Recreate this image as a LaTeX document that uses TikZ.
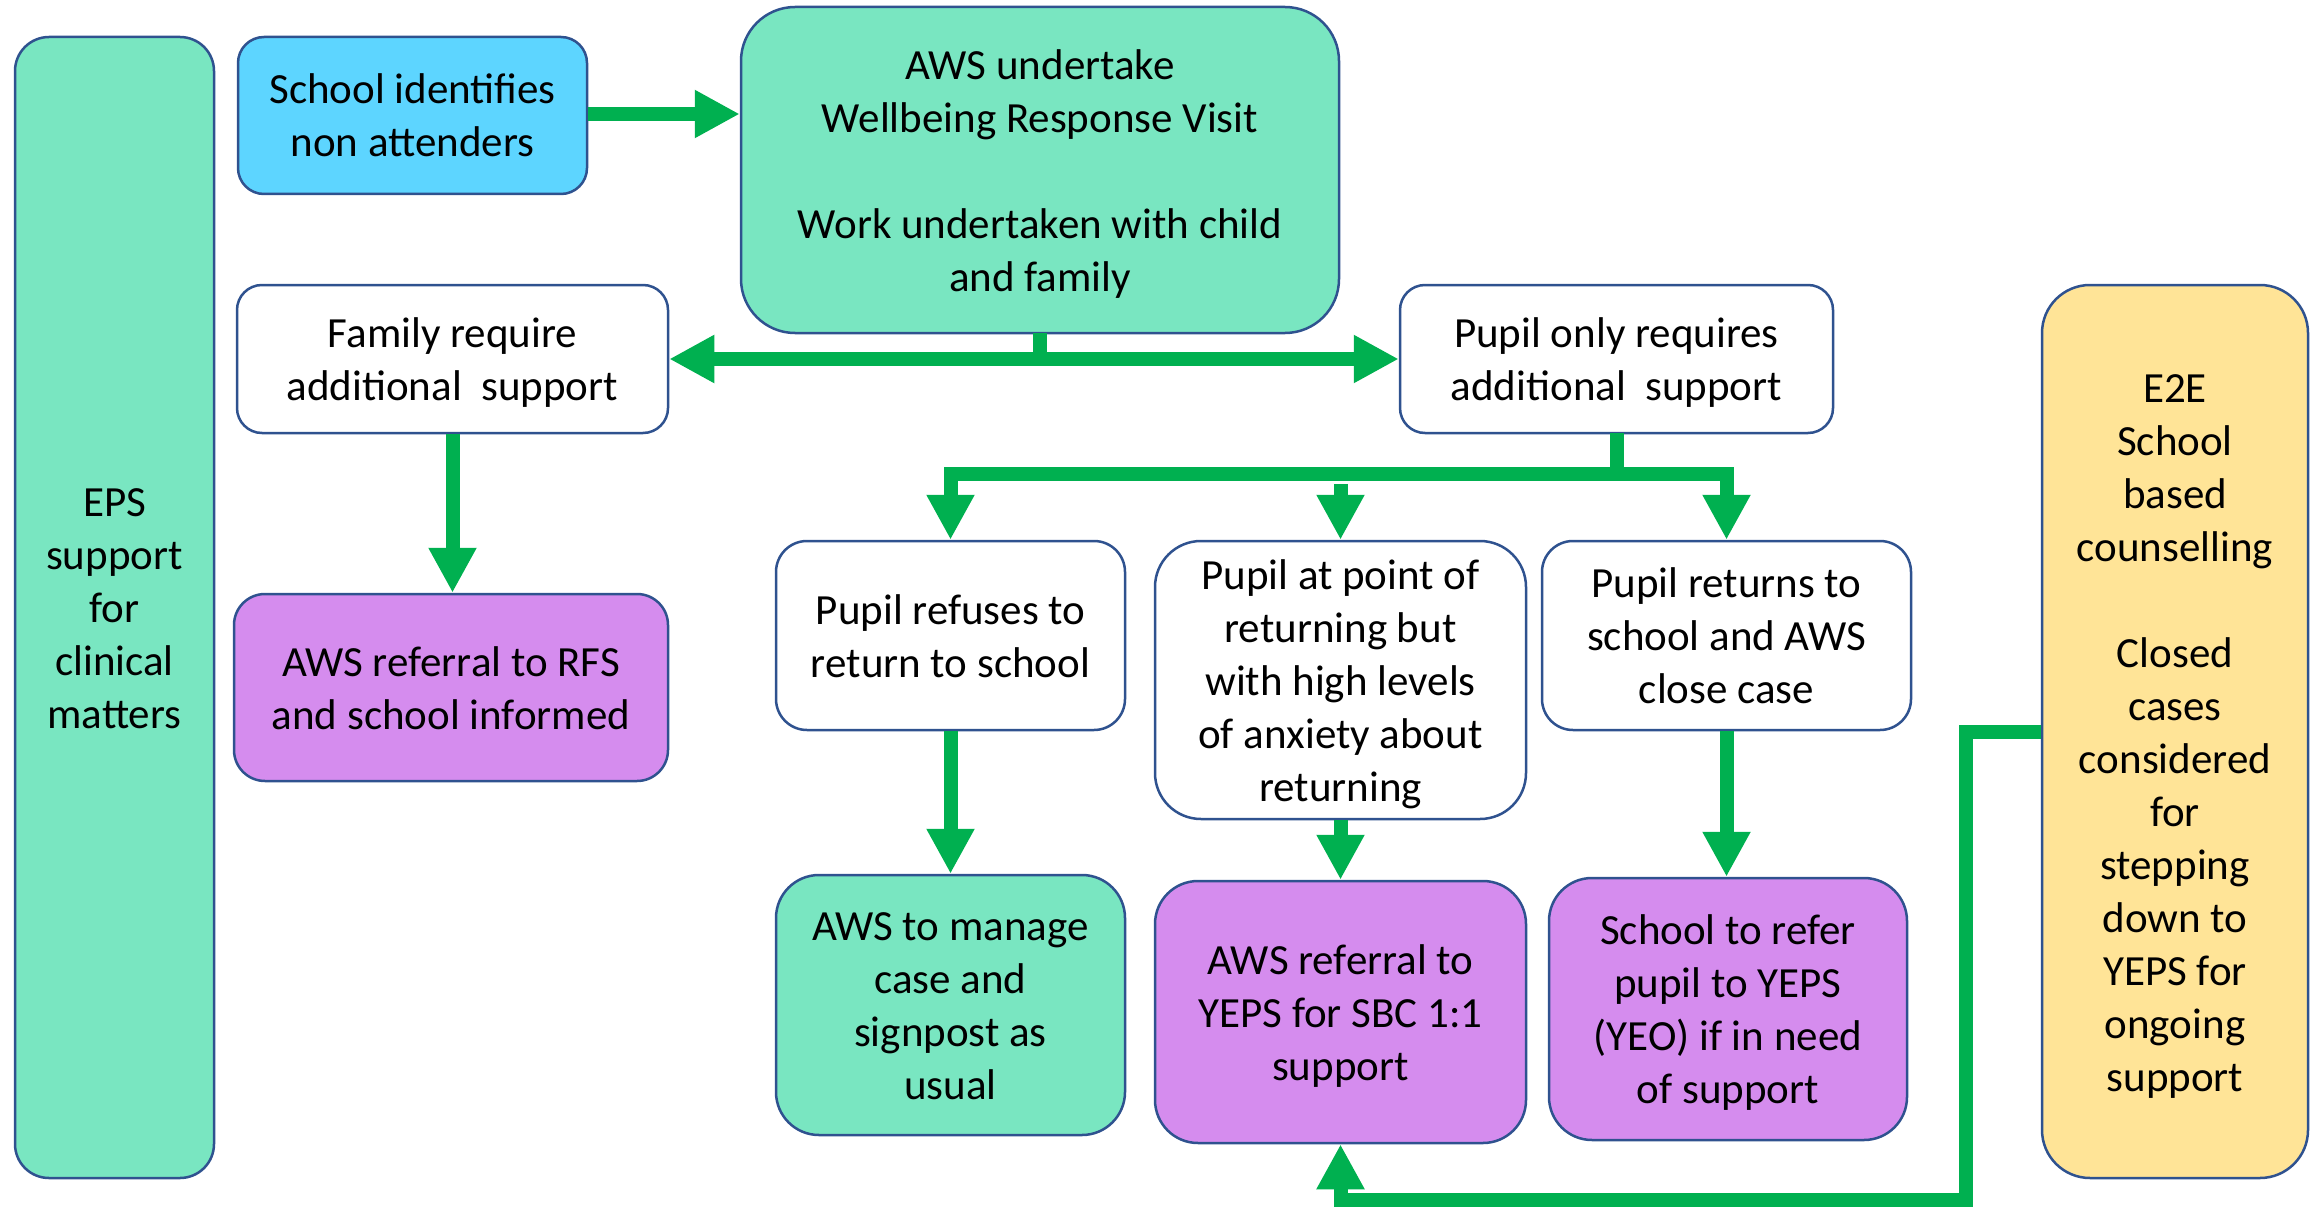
\documentclass[tikz,border=0pt]{standalone}
\usepackage{fontspec}
\setmainfont{Carlito}
\usetikzlibrary{arrows.meta}
\definecolor{bgreen}{HTML}{79E6C1}
\definecolor{bblue}{HTML}{5DD5FF}
\definecolor{bpurple}{HTML}{D58CEE}
\definecolor{byellow}{HTML}{FFE497}
\definecolor{bborder}{HTML}{2F528F}
\definecolor{agreen}{HTML}{00B050}
\newcommand\myTop{\rule{0pt}{43pt}}
\newcommand\myBot{\rule[-13pt]{0pt}{13pt}}
\tikzset{
  box/.style={draw=bborder, line width=2.5pt, rectangle, inner sep=0pt, align=center,
    font=\fontsize{43}{53}\selectfont, text=black},
  arr/.style={draw=agreen, line width=14pt, line join=miter, line cap=butt,
    -{Triangle[length=45pt,width=45pt]}},
  arrboth/.style={draw=agreen, line width=14pt, line join=miter,
    {Triangle[length=45pt,width=45pt]}-{Triangle[length=45pt,width=45pt]}},
  seg/.style={draw=agreen, line width=14pt, line join=miter, line cap=butt},
}
\begin{document}
\begin{tikzpicture}[x=1pt,y=-1pt]
\useasboundingbox (0,0) rectangle (2318,1209);
\node[box, fill=bgreen, minimum width=199pt, minimum height=1141pt, rounded corners=34pt] (eps) at (114.5,607.5) {\myTop EPS\\support\\for\\clinical\\matters\myBot};
\node[box, fill=bblue, minimum width=349pt, minimum height=157pt, rounded corners=26pt] (school) at (412.5,115.5) {\myTop School identifies\\non attenders\myBot};
\node[box, fill=bgreen, minimum width=598pt, minimum height=326pt, rounded corners=54pt] (aws) at (1040,170) {\myTop AWS undertake\\Wellbeing Response Visit\\[53pt]Work undertaken with child\\and family\myBot};
\node[box, fill=white, minimum width=431pt, minimum height=148pt, rounded corners=25pt] (family) at (452.5,359) {\myTop Family require\\additional~~support\myBot};
\node[box, fill=white, minimum width=433pt, minimum height=148pt, rounded corners=25pt] (pupilonly) at (1616.5,359) {\myTop Pupil only requires\\additional~~support\myBot};
\node[box, fill=byellow, minimum width=266pt, minimum height=893pt, rounded corners=48pt] (e2e) at (2175,731.5) {\myTop E2E\\School\\based\\counselling\\[53pt]Closed\\cases\\considered\\for\\stepping\\down to\\YEPS for\\ongoing\\support\myBot};
\node[box, fill=bpurple, minimum width=434pt, minimum height=187pt, rounded corners=31pt] (rfs) at (451,687.5) {\myTop AWS referral to RFS\\and school informed\myBot};
\node[box, fill=white, minimum width=349pt, minimum height=189pt, rounded corners=31pt] (refuses) at (950.5,635.5) {\myTop Pupil refuses to\\return to school\myBot};
\node[box, fill=white, minimum width=371pt, minimum height=278pt, rounded corners=46pt] (atpoint) at (1340.5,680) {\myTop Pupil at point of\\returning but\\with high levels\\of anxiety about\\returning\myBot};
\node[box, fill=white, minimum width=369pt, minimum height=189pt, rounded corners=31pt] (returns) at (1726.5,635.5) {\myTop Pupil returns to\\school and AWS\\close case\myBot};
\node[box, fill=bgreen, minimum width=349pt, minimum height=260pt, rounded corners=43pt] (manage) at (950.5,1005) {\myTop AWS to manage\\case and\\signpost as\\usual\myBot};
\node[box, fill=bpurple, minimum width=371pt, minimum height=262pt, rounded corners=43pt] (sbc) at (1340.5,1012) {\myTop AWS referral to\\YEPS for SBC 1:1\\support\myBot};
\node[box, fill=bpurple, minimum width=358pt, minimum height=262pt, rounded corners=43pt] (refer) at (1728,1009) {\myTop School to refer\\pupil to YEPS\\(YEO) if in need\\of support\myBot};
% connectors
\draw[arr] ([yshift=1.5pt]school.east) -- ([yshift=1.5pt]school.east -| aws.west);
\draw[seg] ([yshift=1pt]aws.south) -- ([yshift=-7pt]aws.south |- family.east);
\draw[arrboth] (family.east) -- (pupilonly.west);
\draw[arr] (family.south) -- (family.south |- rfs.north);
\coordinate (pj) at ([yshift=-40pt]pupilonly.south);
\draw[seg] ([yshift=1pt]pupilonly.south) -- ([yshift=-7pt]pj);
\draw[arr] ([xshift=7pt]pj) -| (refuses.north);
\draw[arr] ([xshift=-7pt]pj) -| (returns.north);
\coordinate (ms) at ([yshift=56pt]atpoint.north);
\draw[arr] (ms) -- (atpoint.north);
\draw[arr] (refuses.south) -- (manage.north);
\draw[arr] (atpoint.south) -- (sbc.north);
\draw[arr] (returns.south) -- (returns.south |- refer.north);
\coordinate (fb) at (1966,1200);
\draw[arr] (e2e.west) -| (fb) -| (sbc.south);
\end{tikzpicture}
\end{document}
